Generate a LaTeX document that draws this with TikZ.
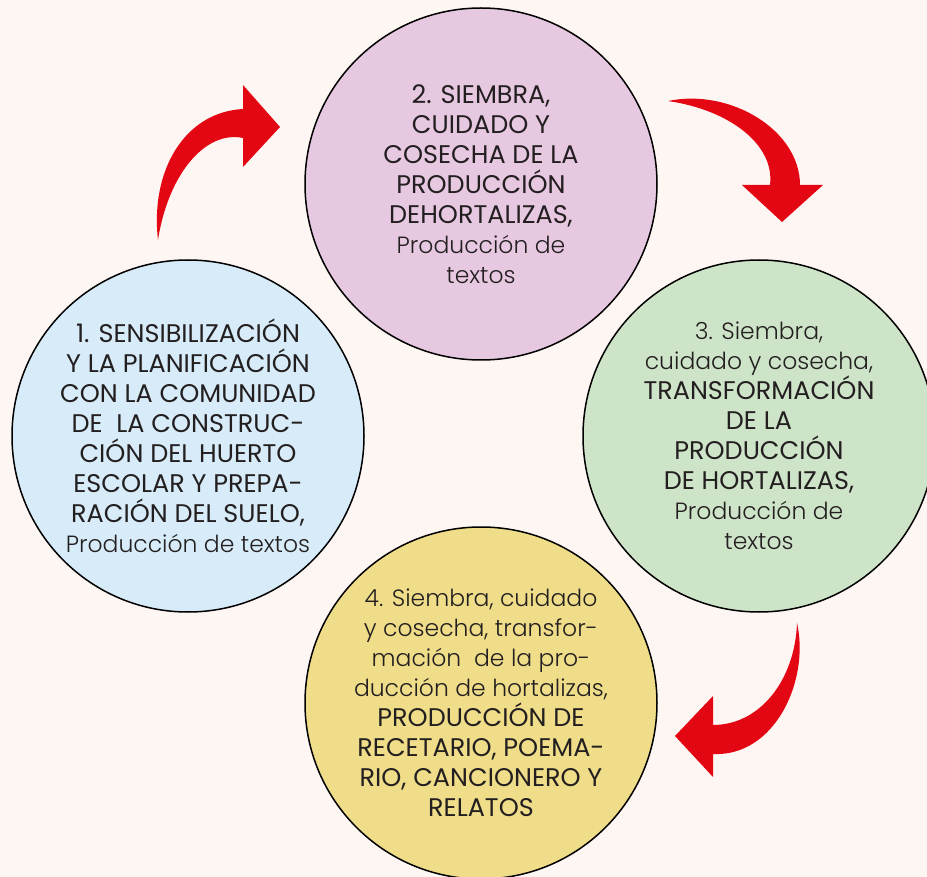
\documentclass[tikz,border=0pt]{standalone}
\usepackage{fontspec}
\setmainfont{Poppins}
\newfontfamily\ltfam{Poppins Light}
\newcommand{\lt}{\ltfam\fontsize{23.5}{30}\selectfont}
\definecolor{bgc}{HTML}{FEF6F3}
\definecolor{pinkc}{HTML}{E7C8E1}
\definecolor{bluec}{HTML}{D7ECF8}
\definecolor{greenc}{HTML}{CEE4C8}
\definecolor{yellowc}{HTML}{EFDD89}
\definecolor{redc}{HTML}{E30613}
\definecolor{txt}{HTML}{231F20}
\tikzset{
  stage/.style={circle, draw=black, line width=1.5pt, minimum size=352pt, inner sep=0pt,
    align=center, text=txt, font=\fontsize{25.5}{30}\selectfont},
  bigarrow/.style={fill=redc, draw=none}
}
\begin{document}
\begin{tikzpicture}[x=1pt,y=-1pt]
\useasboundingbox (0,0) rectangle (927,877);
\fill[bgc] (0,0) rectangle (927,877);
\node[stage, fill=pinkc] (c2) at (481,184) {2. SIEMBRA,\\ CUIDADO Y\\ COSECHA DE LA\\ PRODUCCIÓN\\ DEHORTALIZAS,\\ {\lt Producción de}\\ {\lt textos}};
\node[stage, fill=bluec] (c1) at (188,436) {1. SENSIBILIZACIÓN\\ Y LA PLANIFICACIÓN\\ CON LA COMUNIDAD\\ DE\ \ LA CONSTRUC-\\ CIÓN DEL HUERTO\\ ESCOLAR Y PREPA-\\ RACIÓN DEL SUELO,\\ {\lt Producción de textos}};
\node[stage, fill=greenc] (c3) at (759,436) {{\lt 3. Siembra,}\\ {\lt cuidado y cosecha,}\\ TRANSFORMACIÓN\\ DE LA\\ PRODUCCIÓN\\ DE HORTALIZAS,\\ {\lt Producción de}\\ {\lt textos}};
\node[stage, fill=yellowc] (c4) at (481,703) {{\lt 4. Siembra, cuidado}\\ {\lt y cosecha, transfor-}\\ {\lt mación\ \ de la pro-}\\ {\lt ducción de hortalizas,}\\ PRODUCCIÓN DE\\ RECETARIO, POEMA-\\ RIO, CANCIONERO Y\\ RELATOS};
% arrow 1 -> 2
\fill[bigarrow] (158,240) .. controls (150,170) and (185,112) .. (243,109) -- (243,85) -- (280,127) -- (243,167) -- (243,138) .. controls (205,130) and (168,175) .. (158,240) -- cycle;
% arrow 2 -> 3
\fill[bigarrow] (668,101) .. controls (730,88) and (800,130) .. (800,185) -- (823,185) -- (782,222) -- (742,185) -- (770,185) .. controls (775,145) and (730,110) .. (668,101) -- cycle;
% arrow 3 -> 4
\fill[bigarrow] (797,623) .. controls (810,680) and (775,757) .. (713,754) -- (713,777) -- (675,736) -- (713,696) -- (713,725) .. controls (760,725) and (795,680) .. (797,623) -- cycle;
\end{tikzpicture}
\end{document}
